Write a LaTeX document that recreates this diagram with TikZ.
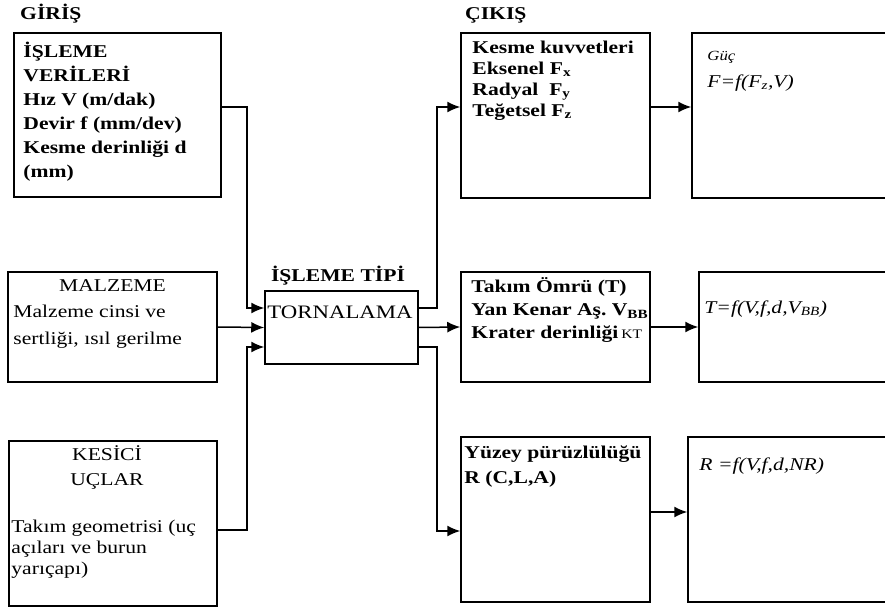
\documentclass[tikz,border=0pt]{standalone}
\usepackage{fontspec}
\setmainfont{Liberation Serif}[FakeStretch=1.2]
\usetikzlibrary{arrows.meta}

\begin{document}
\begin{tikzpicture}[x=1pt,y=-1pt,
  box/.style={draw,line width=1.5pt,inner sep=0pt},
  txt/.style={anchor=north west,inner sep=0pt,align=left,font=\fontsize{18}{24}\selectfont},
  line/.style={anchor=base west,inner sep=0pt,font=\fontsize{18}{24}\selectfont},
  ttl/.style={inner sep=0pt,font=\bfseries\fontsize{18}{24}\selectfont},
  flow/.style={-{Latex[length=13pt,width=11pt]},line width=1.5pt}]
  \clip (0,0) rectangle (885,612);
  % input side
  \node[ttl,anchor=base west] (giris) at (20,20) {GİRİŞ};
  \node[box,minimum width=207pt,minimum height=164pt] (veri) at (117.5,115) {};
  \node[box,minimum width=209pt,minimum height=110pt] (malz) at (112.5,327) {};
  \node[box,minimum width=208pt,minimum height=165pt] (kes) at (113,523.5) {};
  \node[txt,font=\bfseries\fontsize{18}{24}\selectfont] (veritxt) at ([shift={(10,8)}]veri.north west)
       {\strut İŞLEME\\VERİLERİ\\Hız V (m/dak)\\Devir f (mm/dev)\\Kesme derinliği d\\(mm)};
  \node[ttl,anchor=base,font=\fontsize{18}{24}\selectfont] (malzhead) at ([shift={(0,20)}]malz.north) {MALZEME};
  \node[txt,font=\fontsize{18}{27}\selectfont] (malztxt) at ([shift={(6,27)}]malz.north west)
       {\strut Malzeme cinsi ve\\sertliği, ısıl gerilme};
  \node[txt,anchor=north,align=center,font=\fontsize{18}{25}\selectfont] (keshead) at ([shift={(-6,3)}]kes.north)
       {\strut KESİCİ\\UÇLAR};
  \node[txt,font=\fontsize{18}{21}\selectfont] (kestxt) at ([shift={(3,77)}]kes.north west)
       {\strut Takım geometrisi (uç\\açıları ve burun\\yarıçapı)};
  % machining type
  \node[ttl,anchor=base] (tip) at (338,281) {İŞLEME TİPİ};
  \node[box,minimum width=153pt,minimum height=73pt] (torn) at (341.5,327.5) {};
  \node[line,font=\fontsize{19}{24}\selectfont] (torntxt) at ([shift={(3,28)}]torn.north west) {TORNALAMA};
  % output side
  \node[ttl,anchor=base west] (cikis) at (465,20) {ÇIKIŞ};
  \node[box,minimum width=189pt,minimum height=165pt] (kuv) at (555.5,115.5) {};
  \node[box,minimum width=189pt,minimum height=110pt] (omur) at (555.5,327) {};
  \node[box,minimum width=189pt,minimum height=165pt] (yuz) at (555.5,519.5) {};
  \node[txt,font=\bfseries\fontsize{18}{21}\selectfont] (kuvtxt) at ([shift={(12,6)}]kuv.north west)
       {\strut Kesme kuvvetleri\\Eksenel F\textsubscript{x}\\Radyal\ \ F\textsubscript{y}\\Teğetsel F\textsubscript{z}};
  \node[txt,font=\bfseries\fontsize{18}{23}\selectfont] (omurtxt) at ([shift={(11,5)}]omur.north west)
       {\strut Takım Ömrü (T)\\Yan Kenar Aş.\ V\textsubscript{BB}\\Krater derinliği\,{\mdseries\fontsize{13}{15}\selectfont KT}};
  \node[txt,font=\bfseries\fontsize{18}{25}\selectfont] (yuztxt) at ([shift={(4,5)}]yuz.north west)
       {\strut Yüzey pürüzlülüğü\\R (C,L,A)};
  \node[box,minimum width=220pt,minimum height=165pt] (guc) at (802,115.5) {};
  \node[box,minimum width=220pt,minimum height=110pt] (tfun) at (809,327) {};
  \node[box,minimum width=220pt,minimum height=165pt] (rfun) at (798,519.5) {};
  \node[line,font=\itshape\fontsize{14}{16}\selectfont] (guchead) at ([shift={(16,28)}]guc.north west) {Güç};
  \node[line,font=\itshape\fontsize{18}{24}\selectfont] (gucform) at ([shift={(16,55)}]guc.north west)
       {F=f(F\textsubscript{z},V)};
  \node[line,font=\itshape\fontsize{18}{24}\selectfont] (tform) at ([shift={(6,42)}]tfun.north west)
       {T=f(V,f,d,V\textsubscript{BB})};
  \node[line,font=\itshape\fontsize{18}{24}\selectfont] (rform) at ([shift={(12,34)}]rfun.north west)
       {R =f(V,f,d,NR)};
  % connectors into the turning box
  \draw[flow] (veri.east |- 0,107) -- (247,107) |- (torn.west |- 0,308);
  \draw[flow] (malz.east) -- (torn.west);
  \draw[flow] (kes.east |- 0,530) -- (247,530) |- (torn.west |- 0,347);
  % connectors out of it
  \draw[flow] (torn.east |- 0,308) -- (437,308) |- (kuv.west |- 0,107);
  \draw[flow] (torn.east) -- (omur.west);
  \draw[flow] (torn.east |- 0,347) -- (437,347) |- (yuz.west |- 0,531);
  \draw[flow] (kuv.east |- 0,107) -- (guc.west |- 0,107);
  \draw[flow] (omur.east) -- (tfun.west);
  \draw[flow] (yuz.east |- 0,512) -- (rfun.west |- 0,512);
\end{tikzpicture}
\end{document}
